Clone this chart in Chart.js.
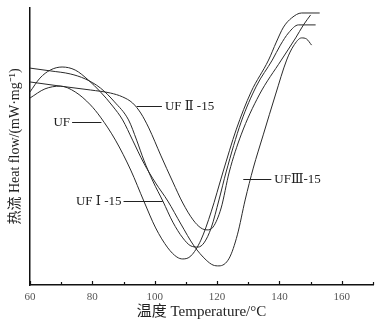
<!DOCTYPE html>
<html>
<head>
<meta charset="utf-8">
<script src="https://cdn.jsdelivr.net/npm/chart.js@4.4.1/dist/chart.umd.min.js"></script>
<style>
  body { margin: 0; background: #fff; }
  #wrap { width: 381px; height: 326px; }
</style>
</head>
<body>
<div id="wrap"><canvas id="dsc-chart" width="381" height="326"></canvas></div>
<script>
// DSC curves, temperature in °C, heat flow in arbitrary units (no y ticks on the figure)
let tempUF = [60, 64.8, 69.7, 74.5, 79.4, 82.6, 87.4, 92.3, 96.5, 100.3, 104.2, 107.1, 109.0, 111.6, 114.8, 118.1, 121.9, 126.1, 130.9, 136.5, 139.0, 141.3, 143.9, 147.1, 152.9];
let flowUF = [6.75, 7.08, 7.18, 6.97, 6.50, 6.06, 5.23, 4.15, 3.03, 2.06, 1.34, 1.01, 0.94, 1.05, 1.62, 2.64, 4.08, 5.60, 6.97, 8.12, 8.77, 9.31, 9.64, 9.82, 9.82];

let tempUF1 = [60, 66.5, 72.9, 77.7, 82.6, 87.1, 91.6, 94.2, 96.5, 99.4, 102.6, 105.8, 109.0, 111.6, 113.9, 115.8, 118.1, 120.6, 122.9, 127.7, 132.6, 137.7, 140.3, 142.9, 146.1, 151.6];
let flowUF1 = [7.83, 7.73, 7.62, 7.44, 7.11, 6.61, 5.96, 5.23, 4.51, 3.75, 3.03, 2.27, 1.70, 1.41, 1.37, 1.52, 2.06, 3.07, 4.08, 5.88, 7.18, 8.12, 8.66, 9.10, 9.39, 9.39];

let tempUF2 = [60, 69.7, 79.4, 85.8, 89.7, 92.9, 95.5, 98.1, 101.9, 105.8, 109.0, 112.3, 114.8, 116.8, 118.7, 121.3, 123.9, 127.7, 133.5, 140.6, 145.2, 147.7, 150.0];
let flowUF2 = [7.33, 7.18, 7.04, 6.93, 6.79, 6.57, 6.21, 5.67, 4.69, 3.72, 2.96, 2.35, 2.06, 1.99, 2.09, 2.78, 4.08, 5.42, 6.86, 8.12, 8.92, 9.39, 9.75];

let tempUF3 = [60, 63.2, 66.5, 70.3, 74.5, 78.7, 82.6, 86.5, 89.7, 92.9, 96.5, 100.3, 104.2, 108.4, 112.6, 116.5, 118.7, 120.6, 123.9, 126.5, 129.0, 131.6, 134.8, 138.7, 142.3, 144.5, 147.1, 148.7, 150.3];
let flowUF3 = [6.97, 7.47, 7.76, 7.87, 7.76, 7.40, 6.97, 6.46, 5.96, 5.23, 4.40, 3.68, 3.03, 2.20, 1.41, 0.90, 0.72, 0.69, 0.97, 1.81, 3.07, 4.22, 5.42, 6.86, 8.12, 8.63, 8.92, 8.88, 8.66];

let xTicks = [60, 80, 100, 120, 140, 160];

// curve labels: text, leader start/end temperature, heat flow level, text side
let labelText = ['UF', 'UF Ⅱ -15', 'UF Ⅰ -15', 'UFⅢ-15'];
let labelFrom = [73.5, 94.2, 90.0, 128.4];
let labelTo = [82.9, 102.3, 102.6, 137.4];
let labelLevel = [5.88, 6.46, 3.03, 3.83];
let labelSide = ['left', 'right', 'left', 'right'];

function pts(xs, ys) {
  return xs.map((x, i) => ({ x: x, y: ys[i] }));
}

function curve(xs, ys) {
  return {
    data: pts(xs, ys),
    borderColor: '#2a2a2a',
    borderWidth: 1,
    pointRadius: 0,
    fill: false,
    cubicInterpolationMode: 'monotone'
  };
}

const tickMarks = {
  id: 'tickMarks',
  afterDraw(chart) {
    const ctx = chart.ctx;
    const xs = chart.scales.x;
    const ys = chart.scales.y;
    ctx.save();
    ctx.strokeStyle = '#111';
    ctx.lineWidth = 1.2;
    for (let t = 60; t <= 170; t += 10) {
      const px = Math.round(xs.getPixelForValue(t)) + 0.5;
      const len = (t % 20 === 0) ? 4 : 3;
      ctx.beginPath();
      ctx.moveTo(px, xs.top);
      ctx.lineTo(px, xs.top - len);
      ctx.stroke();
    }
    // curve labels with leader lines
    ctx.lineWidth = 1;
    ctx.strokeStyle = '#222';
    ctx.fillStyle = '#222';
    ctx.font = '13px "Liberation Serif", "DejaVu Serif", serif';
    ctx.textBaseline = 'middle';
    labelText.forEach((txt, i) => {
      const a = xs.getPixelForValue(labelFrom[i]);
      const b = xs.getPixelForValue(labelTo[i]);
      const py = Math.round(ys.getPixelForValue(labelLevel[i])) + 0.5;
      ctx.beginPath();
      ctx.moveTo(a, py);
      ctx.lineTo(b, py);
      ctx.stroke();
      if (labelSide[i] === 'left') {
        ctx.textAlign = 'right';
        ctx.fillText(txt, a - 2, py);
      } else {
        ctx.textAlign = 'left';
        ctx.fillText(txt, b + 3, py);
      }
    });
    ctx.restore();
  }
};

new Chart(document.getElementById('dsc-chart'), {
  type: 'line',
  data: {
    datasets: [
      curve(tempUF, flowUF),
      curve(tempUF1, flowUF1),
      curve(tempUF2, flowUF2),
      curve(tempUF3, flowUF3)
    ]
  },
  options: {
    responsive: false,
    animation: false,
    layout: { padding: { top: 8, right: 8, left: 0, bottom: 0 } },
    plugins: {
      legend: { display: false },
      tooltip: { enabled: false }
    },
    scales: {
      x: {
        type: 'linear',
        min: 60,
        max: 170,
        afterFit: s => { s.height = 41; },
        afterBuildTicks: s => { s.ticks = xTicks.map(v => ({ value: v })); },
        grid: { display: false, drawTicks: false },
        border: { display: true, color: '#111', width: 1.5 },
        ticks: {
          padding: 6,
          maxRotation: 0,
          color: '#555',
          font: { family: '"Liberation Serif", serif', size: 11 }
        },
        title: {
          display: true,
          text: '温度 Temperature/°C',
          color: '#222',
          padding: { top: 0, bottom: 5 },
          font: { family: '"Liberation Serif", "Noto Sans CJK SC", serif', size: 15 }
        }
      },
      y: {
        min: 0,
        max: 10,
        afterFit: s => { s.width = 30; },
        grid: { display: false, drawTicks: false },
        border: { display: true, color: '#111', width: 1.5 },
        ticks: { display: false },
        title: {
          display: true,
          text: '热流 Heat flow/(mW·mg⁻¹)',
          color: '#222',
          padding: { top: 7, bottom: 0 },
          font: { family: '"Liberation Serif", "Noto Sans CJK SC", serif', size: 14 }
        }
      }
    }
  },
  plugins: [tickMarks]
});
</script>
</body>
</html>
